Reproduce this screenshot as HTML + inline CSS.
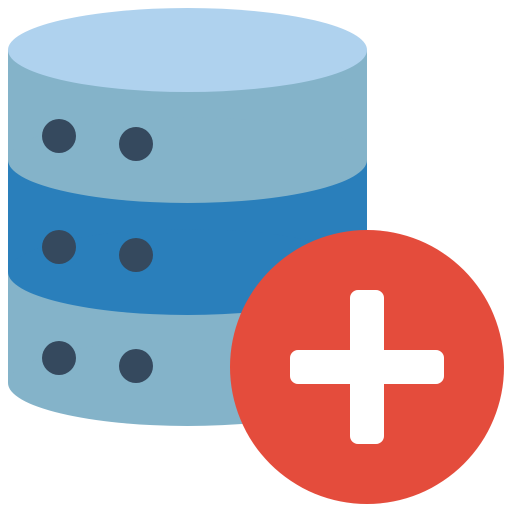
<!DOCTYPE html>
<html><head><style>html,body{margin:0;padding:0;background:#fff}svg{display:block}</style></head>
<body>
<svg width="512" height="512" viewBox="0 0 512 512" xmlns="http://www.w3.org/2000/svg">
<g>
<rect x="8" y="50" width="359" height="333" fill="#84B3C9"/>
<ellipse cx="187.5" cy="383" rx="179.5" ry="43" fill="#84B3C9"/>
<rect x="8" y="50" width="359" height="222" fill="#2A7FBB"/>
<ellipse cx="187.5" cy="272" rx="179.5" ry="43" fill="#2A7FBB"/>
<rect x="8" y="50" width="359" height="110" fill="#84B3C9"/>
<ellipse cx="187.5" cy="160" rx="179.5" ry="43" fill="#84B3C9"/>
<ellipse cx="187.5" cy="50" rx="179.5" ry="42" fill="#AFD2EE"/>
</g>
<g fill="#35495E">
<circle cx="59" cy="136" r="17"/><circle cx="136" cy="144" r="17"/>
<circle cx="59" cy="247" r="17"/><circle cx="136" cy="255" r="17"/>
<circle cx="59" cy="358" r="17"/><circle cx="136" cy="366" r="17"/>
</g>
<circle cx="367" cy="367" r="137" fill="#E44C3C"/>
<rect x="290" y="350" width="154" height="34" rx="8" fill="#fff"/>
<rect x="350" y="290" width="34" height="154" rx="8" fill="#fff"/>
</svg>
</body></html>
